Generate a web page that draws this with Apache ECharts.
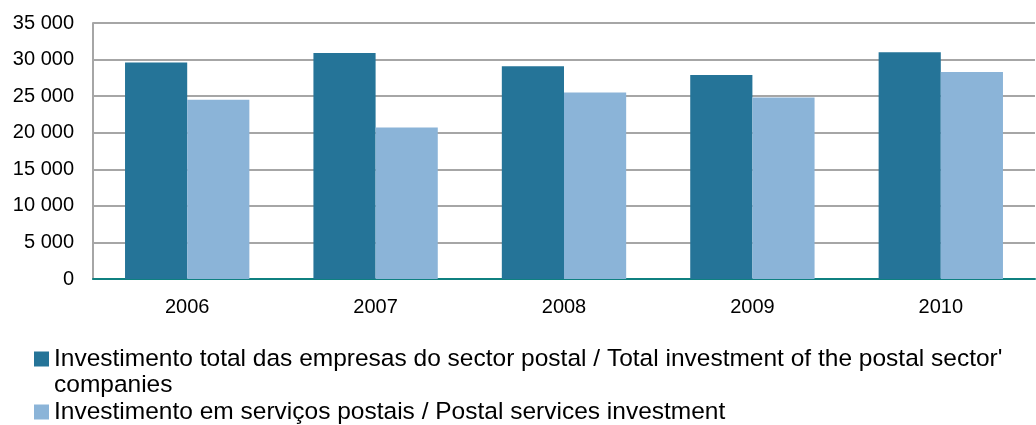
<!DOCTYPE html>
<html>
<head>
<meta charset="utf-8">
<script src="https://cdn.jsdelivr.net/npm/echarts@6/dist/echarts.min.js"></script>
<style>
  html, body { margin: 0; padding: 0; background: #fff; }
  #chart { width: 1036px; height: 425px; }
</style>
</head>
<body>
<div id="chart"></div>
<script>
var years = ['2006', '2007', '2008', '2009', '2010'];
var totalInvestment = [29600, 30900, 29100, 27900, 31000];
var postalInvestment = [24500, 20700, 25500, 24800, 28300];
var seriesNames = [
  "Investimento total das empresas do sector postal / Total investment of the postal sector' companies",
  'Investimento em serviços postais / Postal services investment'
];

var chart = echarts.init(document.getElementById('chart'));
var font = 'Liberation Sans, Arial, sans-serif';

var option = {
  animation: false,
  grid: {
    left: 93,
    right: 1,
    top: 23,
    height: 256
  },
  legend: {
    orient: 'vertical',
    left: 34,
    top: 320,
    padding: 0,
    itemWidth: 15,
    itemHeight: 15,
    itemGap: 1,
    icon: 'rect',
    // empty first line so the icon lines up with the first wrapped line
    formatter: function (name) {
      return name === seriesNames[0] ? '\n' + name : name;
    },
    textStyle: {
      fontFamily: font,
      fontSize: 24.5,
      color: '#000',
      width: 975,
      overflow: 'break',
      lineHeight: 26
    },
    data: seriesNames
  },
  xAxis: {
    type: 'category',
    data: years,
    axisTick: { show: false },
    axisLine: { lineStyle: { color: '#0f8080', width: 2 } },
    axisLabel: { fontFamily: font, fontSize: 20, color: '#000', margin: 18 }
  },
  yAxis: {
    type: 'value',
    min: 0,
    max: 35000,
    interval: 5000,
    axisLine: { show: true, lineStyle: { color: '#a6a6a6', width: 2 } },
    axisTick: { show: false },
    splitLine: { lineStyle: { color: '#a6a6a6', width: 2 } },
    axisLabel: {
      fontFamily: font,
      fontSize: 20,
      color: '#000',
      margin: 19,
      formatter: function (v) {
        return String(v).replace(/\B(?=(\d{3})+(?!\d))/g, ' ');
      }
    }
  },
  series: [
    {
      name: seriesNames[0],
      type: 'bar',
      data: totalInvestment,
      barGap: '0%',
      barCategoryGap: '34%',
      itemStyle: { color: '#257498' }
    },
    {
      name: seriesNames[1],
      type: 'bar',
      data: postalInvestment,
      itemStyle: { color: '#8bb4d8' }
    }
  ]
};

chart.setOption(option);
window.addEventListener('resize', function () {
  chart.resize();
});
</script>
</body>
</html>
